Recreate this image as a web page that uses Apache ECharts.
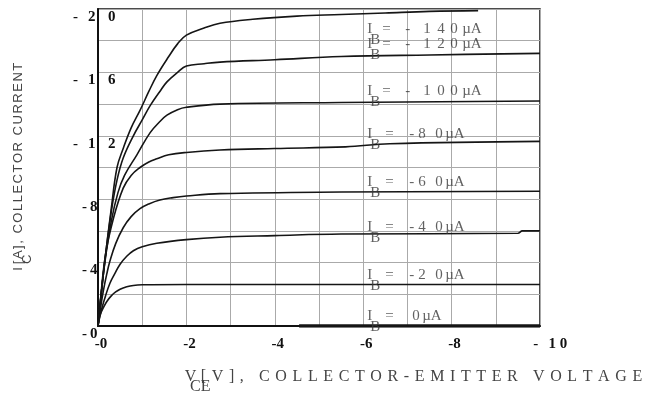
<!DOCTYPE html>
<html><head><meta charset="utf-8">
<script src="https://cdn.jsdelivr.net/npm/echarts@6/dist/echarts.min.js"></script>
<style>html,body{margin:0;padding:0;background:#fff}#c{width:650px;height:403px}</style>
</head><body><div id="c"></div>
<script>
// ---------- DATA (V_CE [V], I_C [A]) ----------
const curve140 = [[0,0],[-0.05,-0.14],[-0.15,-0.4],[-0.3,-0.74],[-0.43,-1.0],[-0.57,-1.12],[-0.75,-1.25],[-0.95,-1.36],[-1.15,-1.48],[-1.33,-1.58],[-1.6,-1.7],[-1.8,-1.78],[-2.0,-1.835],[-2.4,-1.88],[-2.76,-1.91],[-3.5,-1.935],[-4.5,-1.955],[-5.5,-1.965],[-6.5,-1.975],[-7.5,-1.985],[-8.6,-1.99]];
const curve120 = [[0,0],[-0.05,-0.14],[-0.15,-0.4],[-0.3,-0.72],[-0.43,-0.92],[-0.57,-1.06],[-0.8,-1.2],[-1.0,-1.3],[-1.18,-1.39],[-1.4,-1.48],[-1.56,-1.54],[-1.8,-1.6],[-2.0,-1.64],[-2.4,-1.655],[-2.76,-1.665],[-4.0,-1.68],[-5.5,-1.7],[-7.5,-1.71],[-10,-1.72]];
const curve100 = [[0,0],[-0.05,-0.14],[-0.15,-0.39],[-0.3,-0.66],[-0.45,-0.84],[-0.6,-0.95],[-0.88,-1.08],[-1.18,-1.22],[-1.4,-1.29],[-1.56,-1.33],[-1.8,-1.365],[-2.0,-1.38],[-2.76,-1.4],[-5.5,-1.41],[-10,-1.42]];
const curve80 = [[0,0],[-0.05,-0.15],[-0.17,-0.45],[-0.35,-0.68],[-0.57,-0.87],[-0.75,-0.95],[-0.95,-1.0],[-1.15,-1.035],[-1.33,-1.055],[-1.6,-1.08],[-2.0,-1.095],[-2.76,-1.11],[-4.0,-1.12],[-5.6,-1.13],[-6.6,-1.15],[-10,-1.165]];
const curve60 = [[0,0],[-0.05,-0.1],[-0.12,-0.22],[-0.2,-0.33],[-0.27,-0.41],[-0.4,-0.52],[-0.57,-0.62],[-0.75,-0.69],[-0.95,-0.74],[-1.15,-0.77],[-1.4,-0.795],[-1.7,-0.81],[-2.0,-0.82],[-2.76,-0.835],[-5.5,-0.845],[-10,-0.85]];
const curve40 = [[0,0],[-0.05,-0.07],[-0.1,-0.125],[-0.17,-0.19],[-0.27,-0.27],[-0.38,-0.33],[-0.5,-0.39],[-0.65,-0.44],[-0.8,-0.475],[-1.0,-0.5],[-1.33,-0.522],[-2.0,-0.545],[-2.76,-0.56],[-4.0,-0.57],[-5.5,-0.58],[-9.5,-0.585],[-9.6,-0.6],[-10,-0.6]];
const curve20 = [[0,0],[-0.03,-0.05],[-0.07,-0.085],[-0.12,-0.115],[-0.2,-0.155],[-0.3,-0.19],[-0.4,-0.215],[-0.5,-0.232],[-0.65,-0.247],[-0.8,-0.256],[-1.0,-0.26],[-2.0,-0.262],[-10,-0.262]];
const curve0 = [[-4.55,0],[-10,0]];
const baseCurrentsUA = [140,120,100,80,60,40,20,0];
const xTickVals = [0,-2,-4,-6,-8,-10];
const xTickText = ['-0','-2','-4','-6','-8','- 1 0'];
const yTickVals = [0,-0.4,-0.8,-1.2,-1.6,-2.0];
const yTickText = ['-0','-4','-8','- 1 2','- 1 6','- 2 0'];
const xTitleMain = 'V', xTitleSub = 'CE', xTitleRest = '[V], COLLECTOR-EMITTER VOLTAGE';
const yTitleMain = 'I', yTitleSub = 'C', yTitleRest = '[A], COLLECTOR CURRENT';

// ---------- layout / style ----------
const labelAnchorV = -6.09;
const labelAnchorI = [-1.873,-1.778,-1.481,-1.209,-0.905,-0.627,-0.323,-0.063];
const SERIF = '"Liberation Serif", "Times New Roman", serif';
const SANS = '"Liberation Sans", Arial, sans-serif';
const mctx = document.createElement('canvas').getContext('2d');
function textW(t, size, family, weight){ mctx.font = (weight||'normal')+' '+size+'px '+family; return mctx.measureText(t).width; }
function makeRich(base){
  const rich = {}; let n = 0;
  function tok(text, width, extra){
    const k = 't'+(n++);
    const st = Object.assign({}, base, extra||{});
    if (width != null) st.width = width;
    rich[k] = st;
    return '{'+k+'|'+text+'}';
  }
  return {rich, tok};
}

// x title
const xr = makeRich({fontFamily: SERIF, fontSize: 16, color: '#444', lineHeight: 10});
const xRestW = 447;
const xNat = [...xTitleRest].reduce((s,c)=>s+textW(c,16,SERIF),0);
const xSp = (xRestW - xNat)/xTitleRest.length;
let xl1 = xr.tok(xTitleMain, 15);
for (const c of xTitleRest) xl1 += xr.tok(c, textW(c,16,SERIF)+xSp);
const xl1W = 15 + xRestW;
let xl2 = xr.tok(' ', 7); let used = 7;
for (const c of xTitleSub){ const w = textW(c,16,SERIF); xl2 += xr.tok(c, w); used += w; }
xl2 += xr.tok(' ', xl1W - used);
const xName = xl1 + '\n' + xl2;

// y title
const yr = makeRich({fontFamily: SANS, fontSize: 13, color: '#444', lineHeight: 9});
const yRestW = 203;
const yNat = [...yTitleRest].reduce((s,c)=>s+textW(c,13,SANS),0);
const ySp = (yRestW - yNat)/yTitleRest.length;
let yl1 = yr.tok(yTitleMain, 8);
for (const c of yTitleRest) yl1 += yr.tok(c, textW(c,13,SANS)+ySp);
const yl1W = 8 + yRestW;
let yl2 = yr.tok(' ', 9); let yused = 9;
for (const c of yTitleSub){ const w = textW(c,13,SANS); yl2 += yr.tok(c, w); yused += w; }
yl2 += yr.tok(' ', yl1W - yused);
const yName = yl1 + '\n' + yl2;

// tick labels
const tickBase = {fontFamily: SERIF, fontSize: 15, fontWeight: 'bold', color: '#111'};
const xt = makeRich(tickBase);
const xLabelStr = {};
xTickVals.forEach((v,i)=>{
  const s = xTickText[i];
  if (s.indexOf(' ') >= 0){
    const ch = s.split(' ');
    xLabelStr[v] = xt.tok(' ', 8) + xt.tok(ch[0], 18) + xt.tok(ch[1], 15) + xt.tok(ch[2]);
  } else xLabelStr[v] = xt.tok(s);
});
const yt = makeRich(tickBase);
const yLabelStr = {};
yTickVals.forEach((v,i)=>{
  const s = yTickText[i];
  const key = Math.round(-v*10);
  if (s.indexOf(' ') >= 0){
    const ch = s.split(' ');
    yLabelStr[key] = yt.tok(ch[0], 15) + yt.tok(ch[1], 20) + yt.tok(ch[2]);
  } else {
    yLabelStr[key] = yt.tok(' ', 9) + yt.tok(s[0], 8) + yt.tok(s[1]);
  }
});

// I_B labels
const lr = makeRich({fontFamily: SERIF, fontSize: 15, color: '#3a3a3a', lineHeight: 11});
const ibLabelStr = baseCurrentsUA.map(ua=>{
  const d = String(ua).split('');
  let l1;
  if (d.length === 3){
    l1 = lr.tok('I',15)+lr.tok('=',23)+lr.tok('-',18)+lr.tok(d[0],14)+lr.tok(d[1],13)+lr.tok(d[2],12)+lr.tok('µA');
  } else if (d.length === 2){
    l1 = lr.tok('I',18)+lr.tok('=',24)+lr.tok('-',9)+lr.tok(d[0],17)+lr.tok(d[1],10)+lr.tok('µA');
  } else {
    l1 = lr.tok('I',18)+lr.tok('=',27)+lr.tok(d[0],10)+lr.tok('µA');
  }
  const l2 = lr.tok(' ',3)+lr.tok('B');
  return l1 + '\n' + l2;
});

const curves = [curve140, curve120, curve100, curve80, curve60, curve40, curve20, curve0];

const chart = echarts.init(document.getElementById('c'), null, {renderer:'canvas'});
chart.setOption({
  animation: false,
  backgroundColor: '#fff',
  grid: {left: 98, right: 110, top: 9, bottom: 77, show: true, borderColor: '#111', borderWidth: 1.5, backgroundColor: 'transparent'},
  xAxis: {
    type: 'value', min: -10, max: 0, interval: 1, inverse: true,
    axisLine: {show: true, onZero: false, lineStyle: {color: '#111', width: 2}},
    axisTick: {show: false},
    splitLine: {show: true, lineStyle: {color: '#aaa', width: 1}},
    axisLabel: {margin: 11, padding: [0,0,0,6], formatter: v => xLabelStr[Math.round(v)] || '', rich: xt.rich},
    name: xName, nameLocation: 'middle', nameGap: 46,
    nameTextStyle: {padding: [0,0,0,190], rich: xr.rich}
  },
  yAxis: {
    type: 'value', min: -2, max: 0, interval: 0.2, inverse: true,
    axisLine: {show: true, onZero: false, lineStyle: {color: '#111', width: 2}},
    axisTick: {show: false},
    splitLine: {show: true, lineStyle: {color: '#aaa', width: 1}},
    axisLabel: {align: 'left', margin: 25, padding: [16,0,0,0], formatter: v => { const k = Math.round(-v*10); return (k % 4 === 0) ? (yLabelStr[k]||'') : ''; }, rich: yt.rich},
    name: yName, nameLocation: 'middle', nameGap: 66, nameRotate: 90,
    nameTextStyle: {rich: yr.rich}
  },
  series: curves.map((d,i)=>({
    type: 'line', data: d, symbol: 'none', showSymbol: false, smooth: 0.4, silent: true,
    lineStyle: {color: '#151515', width: i === 7 ? 3.5 : 1.6}, z: 3
  })).concat([{
    type: 'scatter', data: labelAnchorI.map(i=>[labelAnchorV, i]), symbolSize: 0, silent: true, z: 5,
    label: {show: true, position: 'inside', align: 'left', verticalAlign: 'top', offset: [0,-5.5],
      formatter: p => ibLabelStr[p.dataIndex], rich: lr.rich}
  }])
});
</script></body></html>
